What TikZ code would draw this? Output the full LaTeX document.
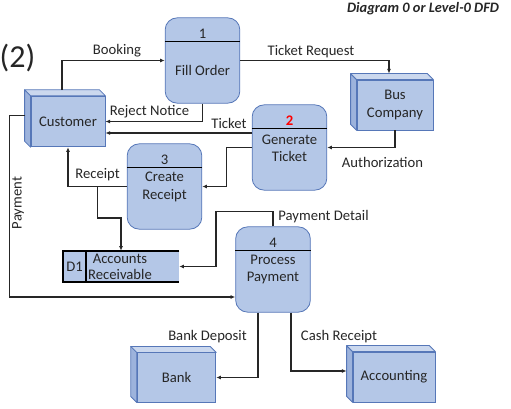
\documentclass[tikz,border=0pt]{standalone}
\usepackage{fontspec}
\setmainfont{Carlito}
\usetikzlibrary{arrows.meta,positioning}
\definecolor{dfdfill}{HTML}{B4C7E7}
\definecolor{dfdside}{HTML}{9DB3DC}
\definecolor{dfdline}{HTML}{5677B8}
\definecolor{dfdtext}{HTML}{262626}

\tikzset{
  proc/.style={draw=dfdline, fill=dfdfill, rounded corners=9pt, minimum width=56pt, minimum height=64pt, line width=0.6pt},
  ent/.style={draw=dfdline, fill=dfdfill, line width=0.6pt, inner sep=1pt, align=center},
  depth/.style={draw=dfdline, fill=dfdside, line width=0.6pt, line join=round},
  hdr/.style={draw=black, line width=1.2pt},
  flow/.style={draw=dfdtext, line width=0.8pt, -{Latex[length=3.5pt,width=3pt]}},
  lbl/.style={inner sep=1pt, text=dfdtext},
}

\begin{document}
\begin{tikzpicture}[x=0.75pt, y=-0.75pt, font=\fontsize{11}{13}\selectfont, text=dfdtext]
\useasboundingbox (0,0) rectangle (511,409);

\node[font=\fontsize{10.8}{12}\selectfont\bfseries\itshape] (title) at (423,9) {Diagram 0 or Level-0 DFD};
\node[font=\fontsize{24}{27}\selectfont, inner sep=0] (num) at (17.5,58) {(2)};

% external entities
\node[ent, minimum width=55.5pt, minimum height=38pt] (cust) at (68,121.5) {Customer};
\node[ent, minimum width=57pt, minimum height=37.5pt] (bus) at (395,105) {Bus\\Company};
\node[ent, minimum width=59pt, minimum height=37pt] (bank) at (176.5,377.5) {Bank};
\node[ent, minimum width=61.5pt, minimum height=37.5pt] (acct) at (394,377) {Accounting};
\foreach \n in {cust,bus,bank,acct}{
  \draw[depth] (\n.south west) -- ([shift={(-6,-6)}]\n.south west) -- ([shift={(-6,-6)}]\n.north west) -- (\n.north west) -- cycle;
  \draw[depth, fill=dfdfill!70!white] (\n.north west) -- ([shift={(-6,-6)}]\n.north west) -- ([shift={(-6,-6)}]\n.north east) -- (\n.north east) -- cycle;
}

% processes
\node[proc] (p1) at (202.5,60.5) {};
\node[proc] (p2) at (289.5,147.5) {};
\node[proc] (p3) at (164.5,186.5) {};
\node[proc] (p4) at (273,269.5) {};
\foreach \p in {p1,p2,p3,p4}
  \draw[hdr] ([shift={(0,24)}]\p.north west) -- ([shift={(0,24)}]\p.north east);

\node (n1) at (202.5,34) {1};
\node (t1) at (202.5,70) {Fill Order};
\node[text=red, font=\fontsize{11}{13}\selectfont\bfseries] (n2) at (289.5,121) {2};
\node[align=center] (t2) at (289.5,148.5) {Generate\\Ticket};
\node (n3) at (164.5,160) {3};
\node[align=center] (t3) at (164.5,187) {Create\\Receipt};
\node (n4) at (273,243) {4};
\node[align=center] (t4) at (273,269.5) {Process\\Payment};

% data store
\node[fill=dfdfill, minimum width=87pt, minimum height=23.25pt, inner sep=0] (d1) at (121,266.5) {};
\draw[line width=1.4pt] (d1.north east) -- (d1.north west) -- (d1.south west) -- (d1.south east);
\draw[line width=1.4pt] ([shift={(23,0)}]d1.north west) -- ([shift={(23,0)}]d1.south west);
\node (d1n) at (74.5,266.5) {D1};
\node[align=center, font=\fontsize{11}{12.5}\selectfont] (d1t) at (120,267) {Accounts\\Receivable};

% data flows
\draw[flow] ([shift={(-6,-6)}]cust.north) |- (p1.west);
\draw[flow] (p1.east) -| ([shift={(-6,-6)}]bus.north);
\draw[flow] (p1.south) |- (cust.east);
\coordinate (tk) at ([shift={(0,-14.5)}]p2.west);
\draw[flow] (tk) -- (tk -| cust.east);
\draw[flow] (p2.west) -- ++(-25,0) |- (p3.east);
\draw[flow] (bus.south) |- (p2.east);
\draw[flow] (p3.west) -| (cust.south);
\coordinate (rc) at ([shift={(-29,0)}]p3.west);
\draw[flow] (rc) -- ++(0,31.5) -| (d1.north);
\draw[flow] ([shift={(-6,-6)}]cust.west) -- ++(-15,0) |- ([shift={(0,27.5)}]p4.west);
\draw[flow] (p4.north) -- ++(0,-15) -- ++(-57,0) |- (d1.east);
\draw[flow] ([shift={(-15,0)}]p4.south) |- (bank.east);
\draw[flow] ([shift={(18,0)}]p4.south) |- ([shift={(-6,-6)}]acct.west);

% flow labels
\node[lbl] (lbook) at (117,51) {Booking};
\node[lbl] (lreq) at (311,52) {Ticket Request};
\node[lbl] (lrej) at (149.5,112) {Reject Notice};
\node[lbl] (ltk) at (229,123.5) {Ticket};
\node[lbl] (lauth) at (382.5,162.5) {Authorization};
\node[lbl] (lrec) at (97.5,175) {Receipt};
\node[lbl, rotate=90] (lpay) at (18,203) {Payment};
\node[lbl] (ldet) at (323.5,216.5) {Payment Detail};
\node[lbl] (ldep) at (207.5,337) {Bank Deposit};
\node[lbl] (lcash) at (339,337) {Cash Receipt};
\end{tikzpicture}
\end{document}
